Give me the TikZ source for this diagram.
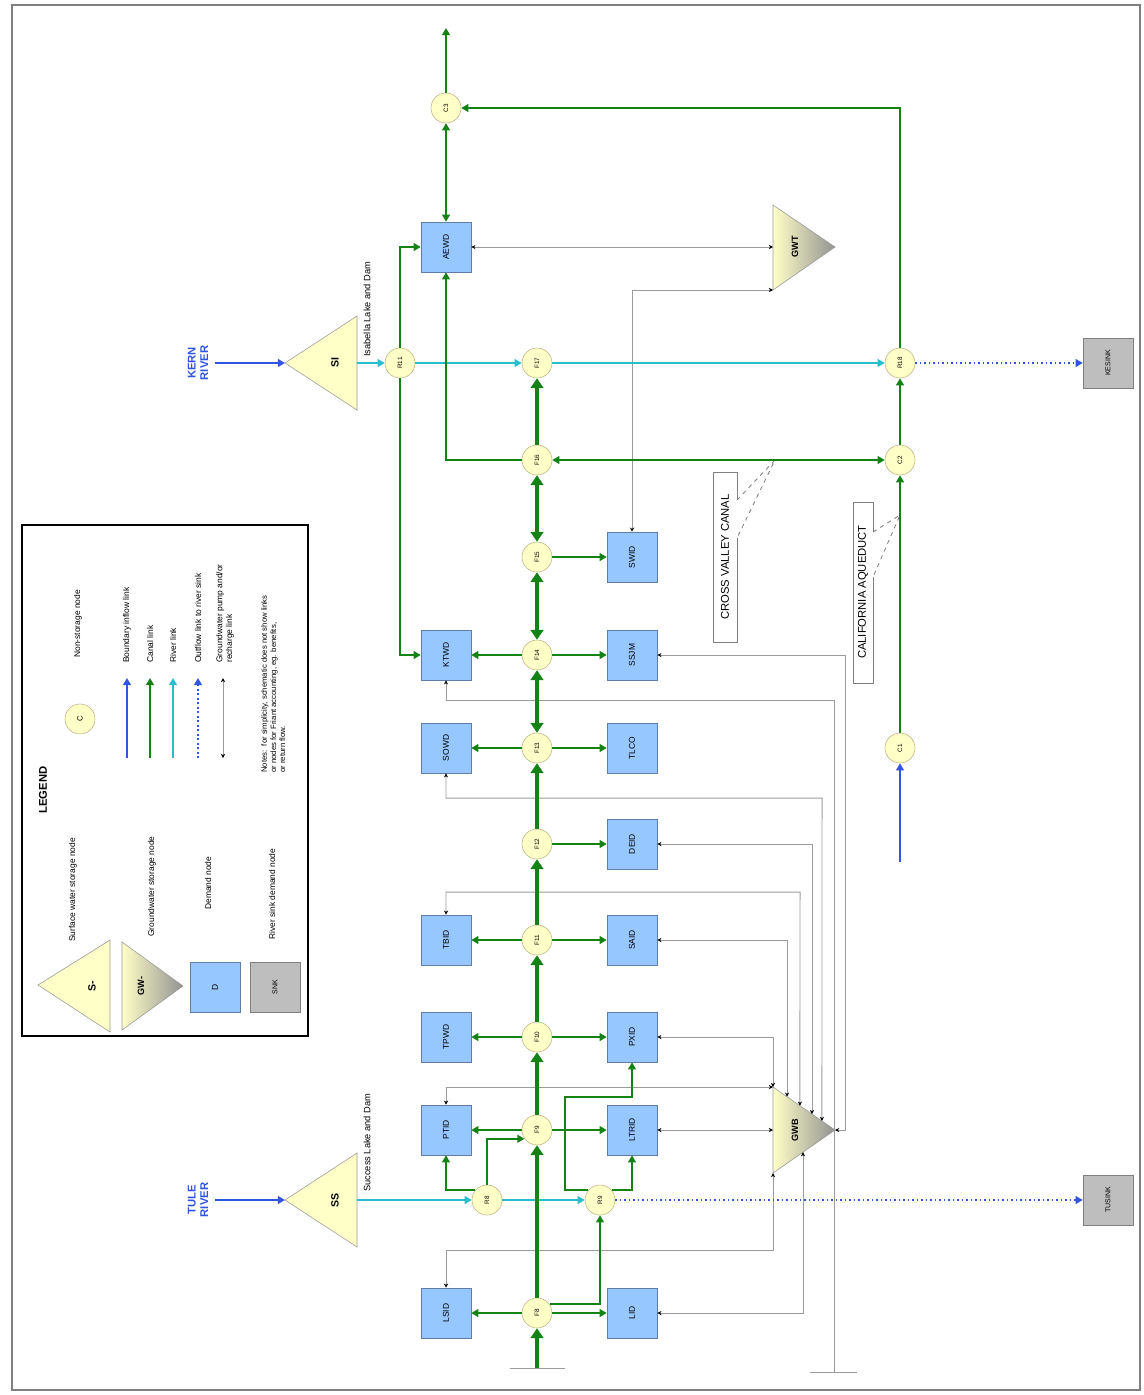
\documentclass[tikz,border=0pt]{standalone}
\usepackage{fontspec}
\setmainfont{Liberation Sans}
\usetikzlibrary{arrows.meta,calc}

\definecolor{canalgreen}{RGB}{20,130,20}
\definecolor{rivercyan}{RGB}{40,190,205}
\definecolor{inflowblue}{RGB}{50,85,225}
\definecolor{demandblue}{RGB}{150,200,255}
\definecolor{demandedge}{RGB}{95,125,165}
\definecolor{nodeyellow}{RGB}{255,255,200}
\definecolor{nodeedge}{RGB}{190,180,130}
\definecolor{sinkgray}{RGB}{190,190,190}
\definecolor{linkgray}{RGB}{155,155,155}

\newcommand{\rt}[1]{\rotatebox{90}{#1}}

\tikzset{
  jn/.style={circle, draw=nodeedge, fill=nodeyellow, minimum size=0.75cm,
    inner sep=0pt, font=\fontsize{4.5}{5}\selectfont},
  dem/.style={rectangle, draw=demandedge, fill=demandblue, minimum size=1.25cm,
    inner sep=0pt, font=\fontsize{6}{7}\selectfont},
  sinkbox/.style={rectangle, draw=gray, fill=sinkgray, minimum size=1.25cm,
    inner sep=0pt, font=\fontsize{5}{6}\selectfont},
  tri/.style={draw=gray!80, fill=nodeyellow},
  gwtri/.style={draw=gray!80, left color=nodeyellow, right color=gray!85},
  trilabel/.style={font=\bfseries\fontsize{7.5}{8}\selectfont, inner sep=0pt},
  maincanal/.style={draw=canalgreen, line width=2.8pt,
    -{Triangle[length=7pt,width=9pt]}},
  maindouble/.style={draw=canalgreen, line width=2.8pt,
    {Triangle[length=7pt,width=9pt]}-{Triangle[length=7pt,width=9pt]}},
  canal/.style={draw=canalgreen, line width=1.6pt,
    -{Triangle[length=5pt,width=5.5pt]}},
  canaldouble/.style={draw=canalgreen, line width=1.6pt,
    {Triangle[length=5pt,width=5.5pt]}-{Triangle[length=5pt,width=5.5pt]}},
  river/.style={draw=rivercyan, line width=1.2pt,
    -{Triangle[length=5pt,width=5.5pt]}},
  inflow/.style={draw=inflowblue, line width=1.2pt,
    -{Triangle[length=5pt,width=5.5pt]}},
  outflow/.style={draw=inflowblue, line width=1.2pt, dotted,
    -{Triangle[length=5pt,width=5.5pt]}},
  gwlink/.style={draw=linkgray, line width=0.7pt,
    {Stealth[length=3pt,width=3pt,color=black]}-{Stealth[length=3pt,width=3pt,color=black]}},
  gwone/.style={draw=linkgray, line width=0.7pt,
    {Stealth[length=3pt,width=3pt,color=black]}-},
  lbl/.style={rotate=90, inner sep=0pt, font=\fontsize{6}{7}\selectfont},
  callout/.style={draw=gray, line width=0.6pt},
  calltext/.style={rotate=90, inner sep=0pt, font=\fontsize{8}{9}\selectfont},
  rivername/.style={rotate=90, inner sep=0pt, align=center, text=inflowblue,
    font=\bfseries\fontsize{8}{9}\selectfont}
}

\begin{document}
\begin{tikzpicture}[x=0.025cm, y=-0.025cm]
\useasboundingbox (0,0) rectangle (1144,1395);
\draw[gray, line width=1pt] (12,5) rectangle (1140,1390);

% ---------- legend ----------
\draw[black, line width=0.8pt] (22,525) rectangle (308,1036);
\node[lbl, font=\bfseries\fontsize{8}{9}\selectfont] (lgtitle) at (43,790) {LEGEND};
\draw[tri] (38,985) -- (110,940) -- (110,1032) -- cycle;
\node[trilabel] (lgsw) at (92,986) {\rt{S-}};
\node[lbl, anchor=west] (lgswt) at (73,942) {Surface water storage node};
\draw[gwtri] (122,942) -- (183,986) -- (122,1030) -- cycle;
\node[trilabel, font=\bfseries\fontsize{6.5}{7}\selectfont] (lggw) at (141,986) {\rt{GW-}};
\node[lbl, anchor=west] (lggwt) at (152,937) {Groundwater storage node};
\node[dem] (lgdem) at (215,987) {\rt{D}};
\node[lbl, anchor=west] (lgdemt) at (208,910) {Demand node};
\node[sinkbox] (lgsink) at (275,987) {\rt{SNK}};
\node[lbl, anchor=west] (lgsinkt) at (272,940) {River sink demand node};
\node[jn, font=\fontsize{5.5}{6}\selectfont] (lgjn) at (80,719) {\rt{C}};
\node[lbl, anchor=west] (lgjnt) at (78,658) {Non-storage node};
\foreach \x/\s in {127/inflow, 150/canal, 173/river, 198/outflow, 223/gwlink} {
  \coordinate (lga) at (\x,758);
  \coordinate (lgb) at (\x,678);
  \draw[\s] (lga) -- (lgb);
}
\node[lbl, anchor=west] (lgt1) at (127,663) {Boundary inflow link};
\node[lbl, anchor=west] (lgt2) at (150,663) {Canal link};
\node[lbl, anchor=west] (lgt3) at (173,663) {River link};
\node[lbl, anchor=west] (lgt4) at (198,663) {Outflow link to river sink};
\node[lbl, anchor=north west, align=left] (lgt5) at (216,663)
  {Groundwater pump and/or\\recharge link};
\node[lbl, anchor=north west, align=left, font=\fontsize{5.5}{6.5}\selectfont] (lgnote) at (261,773)
  {Notes:\ \ for simplicity, schematic does not show links\\or nodes for Friant accounting, eg. benefits,\\or return flow.};

% ---------- storage triangles ----------
\coordinate (SIap) at (285,363);
\draw[tri] (SIap) -- (357,316) -- (357,410) -- cycle;
\node[trilabel] (SI) at (335,363) {\rt{SI}};
\coordinate (SIout) at (357,363);
\coordinate (SSap) at (285,1200);
\draw[tri] (SSap) -- (357,1153) -- (357,1247) -- cycle;
\node[trilabel] (SS) at (335,1200) {\rt{SS}};
\coordinate (SSout) at (357,1200);
\coordinate (KRin) at (215,363);
\coordinate (TRin) at (215,1200);
\node[rivername] (kern) at (198,363) {KERN\\RIVER};
\node[rivername] (tule) at (198,1200) {TULE\\RIVER};
\node[lbl, anchor=west, font=\fontsize{6.6}{7}\selectfont] (isab) at (367,357) {Isabella Lake and Dam};
\node[lbl, anchor=west, font=\fontsize{6.6}{7}\selectfont] (succ) at (367,1192) {Success Lake and Dam};

\coordinate (GWTtl) at (773,205);
\coordinate (GWTbl) at (773,290);
\coordinate (GWTap) at (835,247);
\coordinate (GWTm) at (773,247);
\draw[gwtri] (GWTtl) -- (GWTap) -- (GWTbl) -- cycle;
\node[trilabel, font=\bfseries\fontsize{6.5}{7}\selectfont] (GWT) at (795,247) {\rt{GWT}};
\coordinate (GWBtl) at (773,1087);
\coordinate (GWBbl) at (773,1173);
\coordinate (GWBap) at (835,1130);
\coordinate (GWBm) at (773,1130);
\draw[gwtri] (GWBtl) -- (GWBap) -- (GWBbl) -- cycle;
\node[trilabel, font=\bfseries\fontsize{6.5}{7}\selectfont] (GWB) at (795,1130) {\rt{GWB}};

% ---------- junctions ----------
\node[jn] (F8)  at (537,1313) {\rt{F8}};
\node[jn] (F9)  at (537,1130) {\rt{F9}};
\node[jn] (F10) at (537,1037) {\rt{F10}};
\node[jn] (F11) at (537,940)  {\rt{F11}};
\node[jn] (F12) at (537,844)  {\rt{F12}};
\node[jn] (F13) at (537,748)  {\rt{F13}};
\node[jn] (F14) at (537,655)  {\rt{F14}};
\node[jn] (F15) at (537,557)  {\rt{F15}};
\node[jn] (F16) at (537,460)  {\rt{F16}};
\node[jn] (F17) at (537,363)  {\rt{F17}};
\node[jn] (R8)  at (487,1200) {\rt{R8}};
\node[jn] (R9)  at (600,1200) {\rt{R9}};
\node[jn] (R11) at (400,363)  {\rt{R11}};
\node[jn] (R18) at (900,363)  {\rt{R18}};
\node[jn] (C1)  at (900,748)  {\rt{C1}};
\node[jn] (C2)  at (900,460)  {\rt{C2}};
\node[jn] (C3)  at (446,108)  {\rt{C3}};

% ---------- demands ----------
\node[dem] (LSID)  at (446,1313) {\rt{LSID}};
\node[dem] (PTID)  at (446,1130) {\rt{PTID}};
\node[dem] (TPWD)  at (446,1037) {\rt{TPWD}};
\node[dem] (TBID)  at (446,940)  {\rt{TBID}};
\node[dem] (SOWD)  at (446,748)  {\rt{SOWD}};
\node[dem] (KTWD)  at (446,655)  {\rt{KTWD}};
\node[dem] (AEWD)  at (446,247)  {\rt{AEWD}};
\node[dem] (LID)   at (632,1313) {\rt{LID}};
\node[dem] (LTRID) at (632,1130) {\rt{LTRID}};
\node[dem] (PXID)  at (632,1037) {\rt{PXID}};
\node[dem] (SAID)  at (632,940)  {\rt{SAID}};
\node[dem] (DEID)  at (632,844)  {\rt{DEID}};
\node[dem] (TLCO)  at (632,748)  {\rt{TLCO}};
\node[dem] (SSJM)  at (632,655)  {\rt{SSJM}};
\node[dem] (SWID)  at (632,557)  {\rt{SWID}};
\node[sinkbox] (KESINK) at (1108,363)  {\rt{KESINK}};
\node[sinkbox] (TUSINK) at (1108,1200) {\rt{TUSINK}};

% ---------- groundwater links ----------
\coordinate (gwe1) at ($(GWBtl)!0.226!(GWBap)$);
\coordinate (gwe2) at ($(GWBtl)!0.435!(GWBap)$);
\coordinate (gwe3) at ($(GWBtl)!0.629!(GWBap)$);
\coordinate (gwe4) at ($(GWBtl)!0.790!(GWBap)$);
\coordinate (gwe5) at ($(GWBbl)!0.484!(GWBap)$);
\coordinate (KTgnd) at (834,1372);
\draw[gwlink] (AEWD.east) -- (GWTm);
\draw[gwlink] (SWID.north) |- (GWTbl);
\draw[gwlink] (PTID.north) |- (GWBtl);
\draw[gwlink] (PXID.east) -| (GWBtl);
\draw[gwlink] (LTRID.east) -- (GWBm);
\draw[gwlink] (SAID.east) -| (gwe1);
\draw[gwlink] (TBID.north) |- (800,892) -- (gwe2);
\draw[gwlink] (DEID.east) -| (gwe3);
\draw[gwlink] (SOWD.south) |- (822,798) -- (gwe4);
\draw[gwone] (KTWD.south) |- (834,700) -- (KTgnd);
\draw[gwlink] (SSJM.east) -| (845,1130) -- (GWBap);
\draw[gwlink] (LSID.north) |- (773,1250) -- (GWBbl);
\draw[gwlink] (LID.east) -| (gwe5);
\draw[linkgray, line width=0.7pt] (810,1372) -- (857,1372);

% ---------- callouts ----------
\draw[callout] (737,500) -- (737,472) -- (713,472) -- (713,642) -- (737,642) -- (737,538);
\draw[callout, dashed] (737,500) -- (775,460) -- (737,538);
\node[calltext] (cvc) at (725,557) {CROSS VALLEY CANAL};
\draw[callout] (873,532) -- (873,502) -- (853,502) -- (853,683) -- (873,683) -- (873,577);
\draw[callout, dashed] (873,532) -- (900,515) -- (873,577);
\node[calltext] (caq) at (863,592) {CALIFORNIA AQUEDUCT};

% ---------- rivers ----------
\draw[inflow] (KRin) -- (SIap);
\draw[inflow] (TRin) -- (SSap);
\draw[river] (SIout) -- (R11);
\draw[river] (R11) -- (F17);
\draw[river] (F17) -- (R18);
\draw[outflow] (R18) -- (KESINK);
\draw[river] (SSout) -- (R8);
\draw[river] (R8) -- (R9);
\draw[outflow] (R9) -- (TUSINK);

% ---------- main canal ----------
\coordinate (FKin) at (537,1368);
\draw[linkgray, line width=0.7pt] (510,1368) -- (565,1368);
\draw[maincanal] (FKin) -- (F8);
\draw[maincanal] (F8) -- (F9);
\draw[maincanal] (F9) -- (F10);
\draw[maincanal] (F10) -- (F11);
\draw[maincanal] (F11) -- (F12);
\draw[maincanal] (F12) -- (F13);
\draw[maindouble] (F13) -- (F14);
\draw[maindouble] (F14) -- (F15);
\draw[maindouble] (F15) -- (F16);
\draw[maincanal] (F16) -- (F17);

% ---------- canal branches ----------
\draw[canal] (F8) -- (LSID);
\draw[canal] (F8) -- (LID);
\draw[canal] (F9) -- (PTID);
\draw[canal] (F9) -- (LTRID);
\draw[canal] (F10) -- (TPWD);
\draw[canal] (F10) -- (PXID);
\draw[canal] (F11) -- (TBID);
\draw[canal] (F11) -- (SAID);
\draw[canal] (F12) -- (DEID);
\draw[canal] (F13) -- (SOWD);
\draw[canal] (F13) -- (TLCO);
\draw[canal] (F14) -- (KTWD);
\draw[canal] (F14) -- (SSJM);
\draw[canal] (F15) -- (SWID);
\draw[canal] (F8.35) -| (R9.south);
\draw[canal] (R8.140) -| (PTID.south);
\draw[canal] (R8.north) |- (F9.215);
\draw[canal] (R9.40) -| (LTRID.south);
\draw[canal] (R9.140) -| (565,1097) -| (PXID.south);
\draw[canal] (R11.north) |- (AEWD.west);
\draw[canal] (R11.south) |- (KTWD.west);
\draw[canal] (F16.west) -| (AEWD.south);
\draw[canaldouble] (AEWD) -- (C3);
\coordinate (C3out) at (446,28);
\draw[canal] (C3) -- (C3out);
\draw[canal] (R18.north) |- (C3.east);
\draw[canal] (C2) -- (R18);
\draw[canal] (C1) -- (C2);
\draw[canaldouble] (F16) -- (C2);
\coordinate (CAin) at (900,862);
\draw[inflow] (CAin) -- (C1);
\end{tikzpicture}
\end{document}
